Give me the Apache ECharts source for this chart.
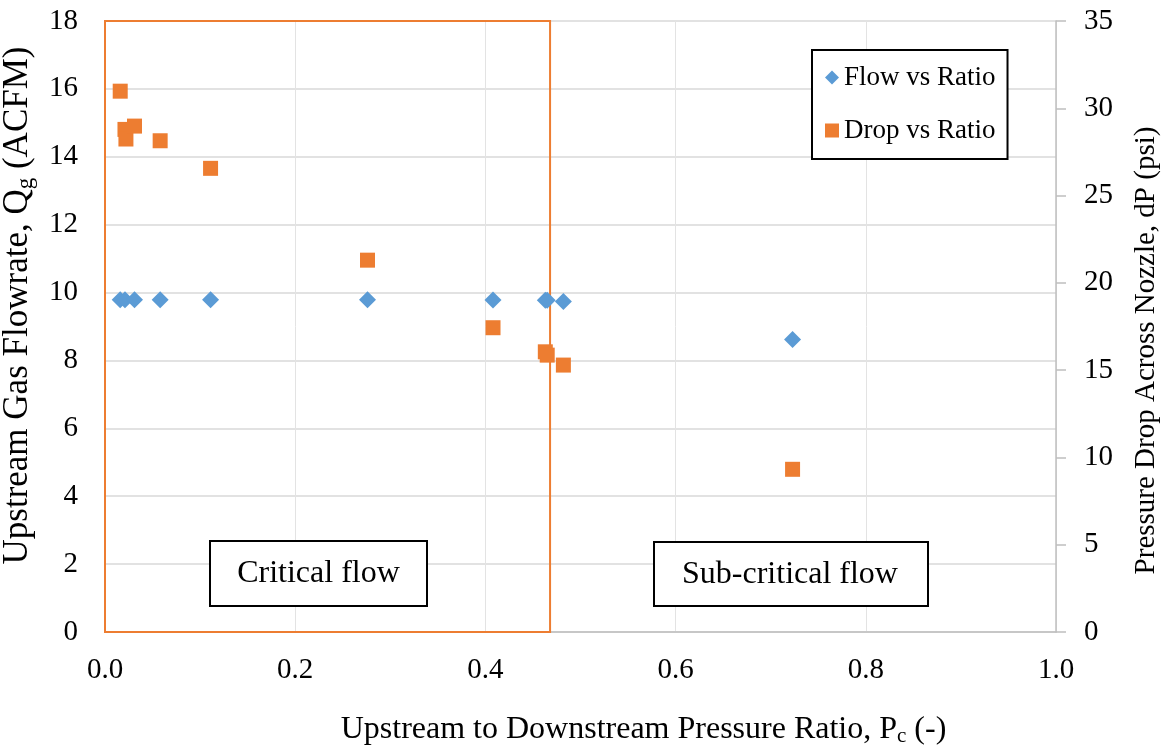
<!DOCTYPE html>
<html>
<head>
<meta charset="utf-8">
<script src="https://cdn.jsdelivr.net/npm/echarts@6/dist/echarts.min.js"></script>
<style>
  html, body { margin: 0; padding: 0; background: #fff; }
  #main { width: 1165px; height: 746px; }
</style>
</head>
<body>
<div id="main"></div>
<script>
// pressure ratio Pc (-)
var ratio = [0.016, 0.021, 0.031, 0.058, 0.111, 0.276, 0.408, 0.463, 0.465, 0.482, 0.723];
// upstream gas flowrate Qg (ACFM)
var flow = [9.79, 9.79, 9.79, 9.79, 9.79, 9.79, 9.78, 9.77, 9.77, 9.74, 8.62];
// pressure drop dP (psi), one extra point in the low-ratio cluster
var dropRatio = [0.016, 0.021, 0.022, 0.031, 0.058, 0.111, 0.276, 0.408, 0.463, 0.465, 0.482, 0.723];
var drop = [30.98, 28.79, 28.24, 28.98, 28.14, 26.56, 21.3, 17.43, 16.05, 15.86, 15.29, 9.32];
var critBoundary = 0.468;

var FONT = "'Liberation Serif', 'Times New Roman', serif";
var BLUE = '#5B9BD5', ORANGE = '#ED7D31';

var flowData = ratio.map(function (r, i) { return [r, flow[i]]; });
var dropData = dropRatio.map(function (r, i) { return [r, drop[i]]; });

var myChart = echarts.init(document.getElementById('main'));

function subRich(size) {
    return { sub: { fontFamily: FONT, fontSize: Math.round(size * 0.65), color: '#000', verticalAlign: 'bottom', padding: [Math.round(size * 0.45), 0, 0, 0] } };
}

option = {
    animation: false,
    textStyle: { fontFamily: FONT },
    grid: { left: 105, right: 109, top: 21, bottom: 114, containLabel: false, outerBoundsMode: 'none' },
    legend: {
        orient: 'vertical',
        left: 812,
        top: 50,
        padding: [14, 12, 15, 13],
        itemGap: 26,
        itemWidth: 14,
        itemHeight: 14,
        borderColor: '#000',
        borderWidth: 2,
        backgroundColor: '#fff',
        textStyle: { fontFamily: FONT, fontSize: 27, color: '#000' },
        data: [
            { name: 'Flow vs Ratio', icon: 'diamond' },
            { name: 'Drop vs Ratio', icon: 'rect' }
        ]
    },
    xAxis: {
        type: 'value',
        min: 0,
        max: 1,
        interval: 0.2,
        name: 'Upstream to Downstream Pressure Ratio, P{sub|c} (-)',
        nameLocation: 'middle',
        nameGap: 80,
        nameTextStyle: { fontFamily: FONT, fontSize: 32, color: '#000', padding: [0, 0, 0, 126], rich: subRich(32) },
        axisLine: { lineStyle: { color: '#BFBFBF', width: 1.5 } },
        axisTick: { show: false },
        axisLabel: {
            margin: 24, fontFamily: FONT, fontSize: 29, color: '#000',
            formatter: function (v) { return v.toFixed(1); }
        },
        splitLine: { lineStyle: { color: '#E3E3E3', width: 1 } }
    },
    yAxis: [{
        type: 'value',
        min: 0,
        max: 18,
        interval: 2,
        name: 'Upstream Gas Flowrate, Q{sub|g} (ACFM)',
        nameLocation: 'middle',
        nameRotate: 90,
        nameGap: 68,
        nameMoveOverlap: false,
        nameTextStyle: { fontFamily: FONT, fontSize: 35, color: '#000', padding: [0, 0, 0, 42], rich: subRich(35) },
        axisLine: { show: false },
        axisTick: { show: false },
        axisLabel: { margin: 27, fontFamily: FONT, fontSize: 29, color: '#000' },
        splitLine: { lineStyle: { color: '#D9D9D9', width: 1.5 } }
    }, {
        type: 'value',
        position: 'right',
        min: 0,
        max: 35,
        interval: 5,
        name: 'Pressure Drop Across Nozzle, dP (psi)',
        nameLocation: 'middle',
        nameRotate: 90,
        nameGap: 76,
        nameTextStyle: { fontFamily: FONT, fontSize: 29, color: '#000', padding: [0, 48, 0, 0] },
        axisLine: { show: true, lineStyle: { color: '#BFBFBF', width: 1.5 } },
        axisTick: { show: true, length: 10, lineStyle: { color: '#BFBFBF', width: 1.5 } },
        axisLabel: { margin: 28, fontFamily: FONT, fontSize: 29, color: '#000' },
        splitLine: { show: false }
    }],
    graphic: [{
        type: 'group',
        children: [
            { type: 'rect', shape: { x: 210, y: 541, width: 217, height: 65 },
              style: { fill: '#fff', stroke: '#000', lineWidth: 2 }, z: 10 },
            { type: 'text', x: 318.5, y: 574, z: 11,
              style: { text: 'Critical flow', font: '32px ' + FONT, fill: '#000', textAlign: 'center', textVerticalAlign: 'middle' } },
            { type: 'rect', shape: { x: 654, y: 542, width: 274, height: 64 },
              style: { fill: '#fff', stroke: '#000', lineWidth: 2 }, z: 10 },
            { type: 'text', x: 790, y: 575, z: 11,
              style: { text: 'Sub-critical flow', font: '32px ' + FONT, fill: '#000', textAlign: 'center', textVerticalAlign: 'middle' } }
        ]
    }],
    series: [{
        name: 'Flow vs Ratio',
        type: 'scatter',
        yAxisIndex: 0,
        symbol: 'diamond',
        symbolSize: 17,
        itemStyle: { color: BLUE, opacity: 1 },
        data: flowData,
        markArea: {
            silent: true,
            itemStyle: { color: 'rgba(0,0,0,0)', borderColor: ORANGE, borderWidth: 2 },
            data: [[{ coord: [0, 0] }, { coord: [critBoundary, 18] }]]
        }
    }, {
        name: 'Drop vs Ratio',
        type: 'scatter',
        yAxisIndex: 1,
        symbol: 'rect',
        symbolSize: 15,
        itemStyle: { color: ORANGE, opacity: 1 },
        data: dropData
    }]
};
myChart.setOption(option);
</script>
</body>
</html>
